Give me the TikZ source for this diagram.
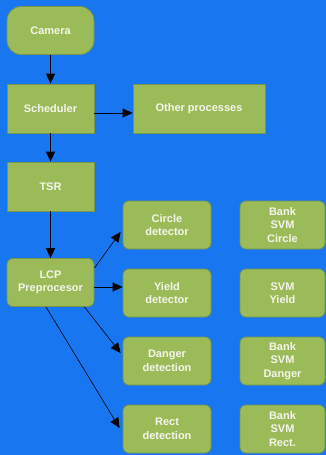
\documentclass[tikz,border=0pt]{standalone}
\usepackage{fontspec}
\setmainfont{Liberation Sans}
\usetikzlibrary{arrows.meta,calc}
\definecolor{bgblue}{RGB}{24,119,240}
\definecolor{boxgreen}{RGB}{155,187,89}
\definecolor{boxedge}{RGB}{120,150,70}
\definecolor{txt}{RGB}{245,245,235}
\tikzset{
  box/.style={draw=boxedge, line width=0.8pt, fill=boxgreen, text=txt, font=\fontsize{11}{13.5}\selectfont\bfseries, align=center, inner sep=0pt},
  sq/.style={box, minimum width=87pt, minimum height=49pt},
  rnd/.style={box, rounded corners=6pt, minimum width=87pt, minimum height=48pt},
  arr/.style={-{Triangle[length=10pt,width=9pt]}, line width=0.8pt, black},
}
\begin{document}
\begin{tikzpicture}[x=1pt,y=-1pt]
\useasboundingbox[fill=bgblue] (0,0) rectangle (326,455);
\node[box, rounded corners=14pt, minimum width=87pt, minimum height=48pt] (cam) at (50.5,30.5) {Camera};
\node[sq] (sch) at (50.5,108.5) {Scheduler};
\node[sq, minimum width=132pt] (oth) at (199,108.5) {Other processes};
\node[sq] (tsr) at (50.5,186.5) {TSR};
\node[rnd] (lcp) at (50.5,282.5) {LCP\\Preprocesor};
\node[rnd, minimum width=88pt] (cir) at (167,225) {Circle\\detector};
\node[rnd, minimum width=85pt] (bsc) at (282.5,225) {Bank\\SVM\\Circle};
\node[rnd, minimum width=88pt] (yld) at (167,293) {Yield\\detector};
\node[rnd, minimum width=85pt] (svy) at (282.5,293) {SVM\\Yield};
\node[rnd, minimum width=88pt] (dng) at (167,361) {Danger\\detection};
\node[rnd, minimum width=85pt] (bsd) at (282.5,361) {Bank\\SVM\\Danger};
\node[rnd, minimum width=88pt] (rct) at (167,429) {Rect\\detection};
\node[rnd, minimum width=85pt] (bsr) at (282.5,429) {Bank\\SVM\\Rect.};
\draw[arr] (cam) -- (sch);
\draw[arr] ($(sch.east)+(0,4.5)$) -- ($(oth.west)+(0,4.5)$);
\draw[arr] (sch) -- (tsr);
\draw[arr] (tsr) -- (lcp);
\draw[arr, line width=0.6pt] ($(lcp.north east)+(0,10)$) -- ($(cir.west)+(-2,7)$);
\draw[arr] ($(lcp.east)+(0,4.5)$) -- ($(yld.west)+(0,-6)$);
\draw[arr, line width=0.6pt] ($(lcp.south east)+(-10,0)$) -- ($(dng.west)+(-2,-8)$);
\draw[arr, line width=0.6pt] ($(lcp.south)+(-4.5,0)$) -- ($(rct.west)+(-3,-1)$);
\end{tikzpicture}
\end{document}
